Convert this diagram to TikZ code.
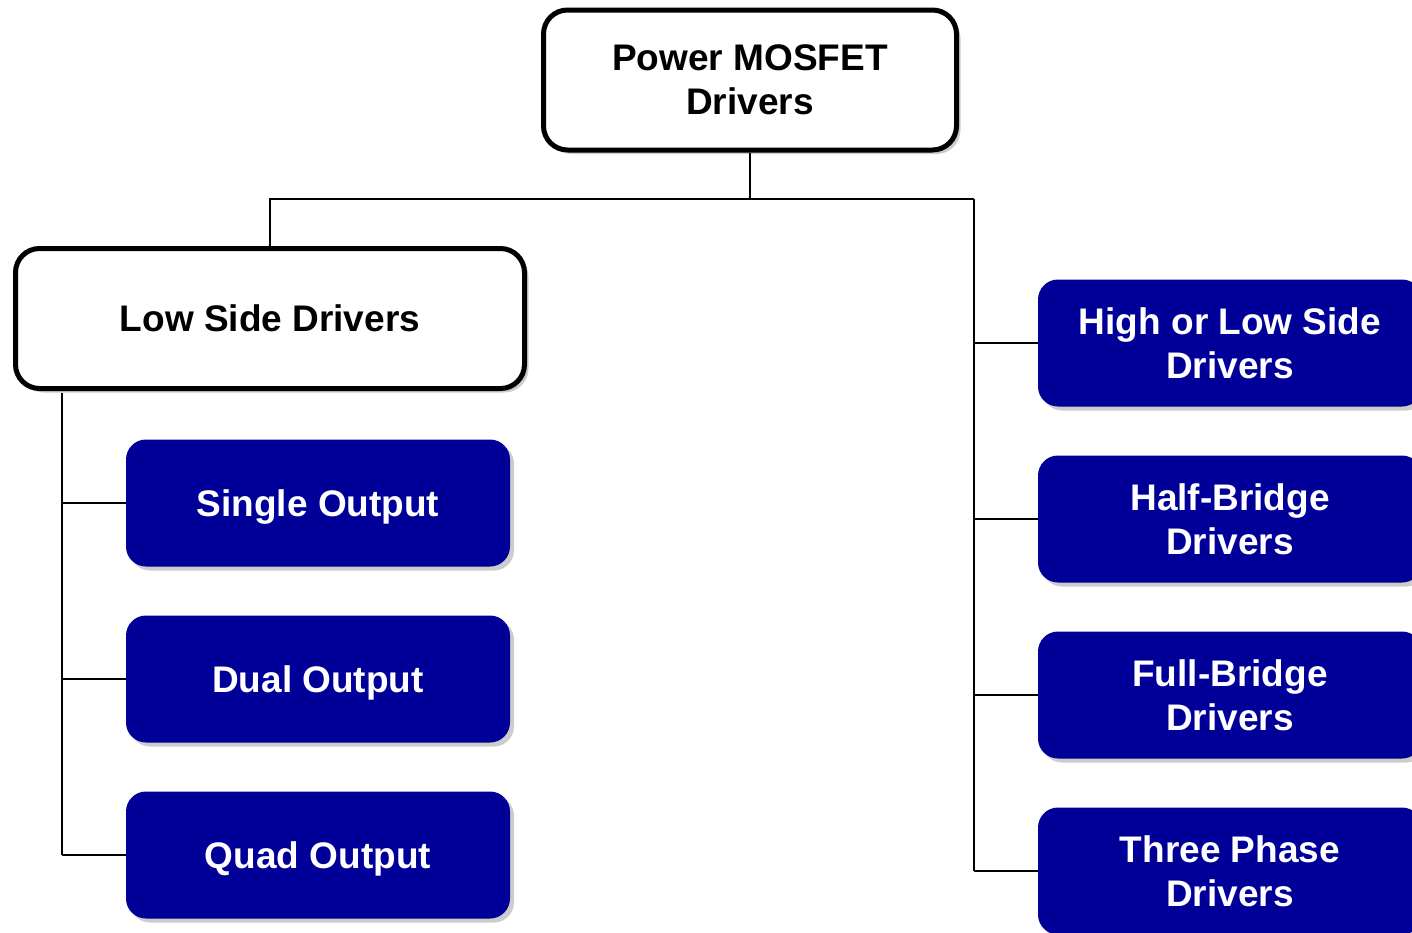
\documentclass[tikz,border=0pt]{standalone}
\usepackage{fontspec}
\setmainfont{Liberation Sans}
\usetikzlibrary{shadows}
\definecolor{drvblue}{HTML}{000099}
\begin{document}
\begin{tikzpicture}[x=1pt, y=-1pt,
        headbox/.style={draw=black, line width=5pt, fill=white, rounded corners=24pt,
            align=center, font=\bfseries\fontsize{37}{44}\selectfont,
            drop shadow={shadow xshift=4pt, shadow yshift=-4pt, opacity=0.4}},
        drvbox/.style={fill=drvblue, text=white, rounded corners=20pt, align=center,
            minimum width=384pt, minimum height=127pt, inner sep=0pt,
            font=\bfseries\fontsize{37}{44}\selectfont,
            drop shadow={shadow xshift=4pt, shadow yshift=-4pt, opacity=0.4}},
        oneline/.style={text depth=0pt},
        link/.style={black, line width=2pt}]
    \useasboundingbox (0,0) rectangle (1412,932);
    \clip (0,0) rectangle (1412,932);
    % tree head
    \node[headbox, minimum width=413pt, minimum height=140pt] (top) at (750,80) {Power MOSFET\\Drivers};
    \node[headbox, minimum width=509pt, minimum height=140pt] (low) at (270,318.5) {Low Side Drivers};
    % left column
    \node[drvbox, oneline] (single) at (318,503) {Single Output};
    \node[drvbox, oneline] (dual) at (318,679) {Dual Output};
    \node[drvbox, oneline] (quad) at (318,855) {Quad Output};
    % right column
    \node[drvbox] (hilo) at (1230,343) {High or Low Side\\Drivers};
    \node[drvbox] (half) at (1230,519) {Half-Bridge\\Drivers};
    \node[drvbox] (full) at (1230,695) {Full-Bridge\\Drivers};
    \node[drvbox] (three) at (1230,871) {Three Phase\\Drivers};
    % connectors
    \coordinate (hub) at (750,199);
    \coordinate (rbar) at (974,199);
    \coordinate (lbar) at (62,393);
    \draw[link] (top.south) -- (hub);
    \draw[link] (low.north) |- (rbar);
    \draw[link] (rbar) -- (three.west -| rbar);
    \foreach \n in {hilo,half,full,three}
        \draw[link] (\n.west) -- (\n.west -| rbar);
    \draw[link] (lbar) -- (quad.west -| lbar);
    \foreach \n in {single,dual,quad}
        \draw[link] (\n.west) -- (\n.west -| lbar);
\end{tikzpicture}
\end{document}
